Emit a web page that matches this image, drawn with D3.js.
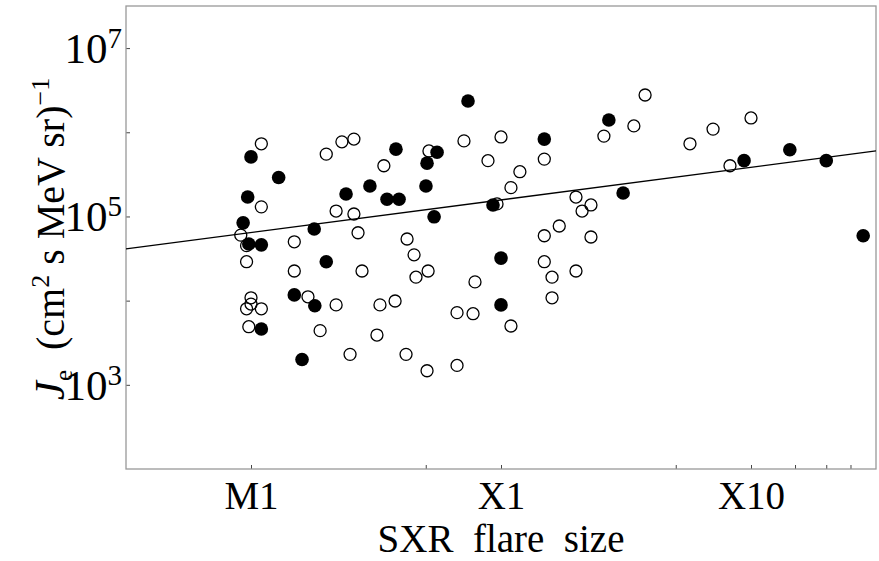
<!DOCTYPE html>
<html>
<head>
<meta charset="utf-8">
<script src="https://cdn.jsdelivr.net/npm/d3@7"></script>
<style>
  body { margin: 0; background: #fff; }
  text { font-family: "Liberation Serif", "Times New Roman", serif; }
</style>
</head>
<body>
<script>
// flare size in units of M1 (1 = M1, 10 = X1, 100 = X10), electron intensity Je
const filledSize = [1.0, 1.29, 0.97, 0.93, 0.98, 1.10, 1.79, 2.40, 2.0, 1.10, 1.49, 1.80, 1.60,
  3.80, 2.99, 3.50, 3.91, 5.55, 5.06, 5.01, 5.40, 7.38, 14.9, 9.29, 10.0, 10.0,
  27.0, 30.8, 93.8, 143, 200, 281];
const filledJe = [5.1e5, 2.9e5, 1.7e5, 8.4e4, 4.7e4, 4.6e4, 7.1e4, 1.85e5, 2.9e4, 4.6e3, 1.17e4, 8.7e3, 2.0e3,
  6.3e5, 2.3e5, 1.6e5, 1.6e5, 5.8e5, 4.3e5, 2.3e5, 9.9e4, 2.35e6, 8.3e5, 1.37e5, 3.2e4, 8.9e3,
  1.40e6, 1.9e5, 4.6e5, 6.2e5, 4.6e5, 5.9e4];

const openSize = [1.10, 1.10, 0.91, 0.96, 1.49, 0.96, 1.49, 2.0, 2.31, 2.58, 2.19, 2.58, 2.68,
  1.0, 1.0, 0.96, 1.10, 0.98, 1.69, 2.19, 1.89, 2.49, 3.40, 2.78, 4.21, 4.49, 5.11, 4.57,
  5.15, 7.11, 10.0, 8.87, 14.9, 11.9, 10.96, 9.64, 7.87, 14.9, 17.1, 14.9, 16.0, 16.0,
  19.95, 19.95, 21.1, 22.9, 22.9, 25.8, 3.28, 3.77, 6.67, 7.73, 3.19, 4.17, 5.06, 6.67,
  10.96, 37.7, 34.0, 57.0, 70.5, 100, 82.4];
const openJe = [7.3e5, 1.30e5, 6.0e4, 4.5e4, 5.0e4, 2.9e4, 2.25e4, 5.5e5, 7.7e5, 8.3e5, 1.16e5, 1.07e5, 6.4e4,
  1.08e4, 9.1e3, 8.0e3, 8.0e3, 4.9e3, 1.11e4, 8.9e3, 4.4e3, 2.3e3, 4.0e5, 2.25e4, 5.4e4, 3.5e4, 2.25e4, 1.9e4,
  6.0e5, 7.9e5, 8.8e5, 4.6e5, 4.8e5, 3.4e5, 2.2e5, 1.41e5, 1.67e4, 5.9e4, 7.7e4, 2.9e4, 1.9e4, 1.08e4,
  2.25e4, 1.7e5, 1.16e5, 1.37e5, 5.7e4, 9.0e5, 8.9e3, 9.9e3, 7.2e3, 7.0e3, 3.9e3, 2.3e3, 1.47e3, 1.7e3,
  5.0e3, 2.77e6, 1.19e6, 7.3e5, 1.09e6, 1.48e6, 4.0e5];

// power-law fit: Je = fitJeAtM1 * size^fitSlope
const fitJeAtM1 = 6.43e4;
const fitSlope = 0.388;

const xTicks = [1, 5, 10, 50, 100, 150, 200, 250];
const xTickLabels = {1: "M1", 10: "X1", 100: "X10"};
const yTicks = [1e3, 1e4, 1e5, 1e6, 1e7];
const yTickLabels = {1000: "3", 100000: "5", 10000000: "7"};

const W = 879, H = 561;
const m = {left: 126, right: 3, top: 6, bottom: 92};
const FS = 39;

const svg = d3.select("body").append("svg")
  .attr("width", W).attr("height", H);

const x = d3.scaleLog()
  .domain([Math.pow(10, -0.5), Math.pow(10, 2.5)])
  .range([m.left, W - m.right]);
const y = d3.scaleLog()
  .domain([1e2, Math.pow(10, 7.5)])
  .range([H - m.bottom, m.top]);

// x axis
const gx = svg.append("g")
  .attr("transform", "translate(0," + (H - m.bottom) + ")")
  .call(d3.axisBottom(x).tickValues(xTicks).tickSize(-4).tickPadding(12)
    .tickFormat(d => xTickLabels[d] || ""));
gx.select(".domain").remove();
gx.selectAll(".tick line").attr("stroke", "#444");
gx.selectAll(".tick text").attr("font-size", FS).attr("fill", "#000")
  .style("font-family", "'Liberation Serif', serif");

// y axis
const gy = svg.append("g")
  .attr("transform", "translate(" + m.left + ",0)")
  .call(d3.axisLeft(y).tickValues(yTicks).tickSize(-4).tickPadding(4)
    .tickFormat(() => ""));
gy.select(".domain").remove();
gy.selectAll(".tick line").attr("stroke", "#444");
gy.selectAll(".tick text").each(function (d) {
  const sup = yTickLabels[d];
  const t = d3.select(this).attr("fill", "#000").attr("font-size", 43)
    .style("font-family", "'Liberation Serif', serif");
  if (!sup) return;
  t.attr("dy", "0.33em");
  t.append("tspan").text("10");
  t.append("tspan").attr("font-size", 29).attr("dy", -15).text(sup);
});

// frame
svg.append("rect")
  .attr("x", m.left).attr("y", m.top)
  .attr("width", W - m.right - m.left).attr("height", H - m.bottom - m.top)
  .attr("fill", "none").attr("stroke", "#999").attr("stroke-width", 1.3);

// fit line
const fitX = x.domain();
svg.append("line")
  .attr("x1", x(fitX[0])).attr("y1", y(fitJeAtM1 * Math.pow(fitX[0], fitSlope)))
  .attr("x2", x(fitX[1])).attr("y2", y(fitJeAtM1 * Math.pow(fitX[1], fitSlope)))
  .attr("stroke", "#000").attr("stroke-width", 1.3);

// points
svg.append("g").selectAll("circle")
  .data(openSize.map((s, i) => [s, openJe[i]]))
  .join("circle")
  .attr("cx", d => x(d[0])).attr("cy", d => y(d[1]))
  .attr("r", 6)
  .attr("fill", "none").attr("stroke", "#000").attr("stroke-width", 1.3);

svg.append("g").selectAll("circle")
  .data(filledSize.map((s, i) => [s, filledJe[i]]))
  .join("circle")
  .attr("cx", d => x(d[0])).attr("cy", d => y(d[1]))
  .attr("r", 6.8)
  .attr("fill", "#000");

// axis titles
svg.append("text")
  .attr("x", (m.left + W - m.right) / 2).attr("y", 552)
  .attr("text-anchor", "middle").attr("font-size", FS)
  .attr("xml:space", "preserve")
  .text("SXR  flare  size");

const yl = svg.append("text")
  .attr("transform", "translate(64,239) rotate(-90)")
  .attr("text-anchor", "middle").attr("font-size", 40)
  .attr("xml:space", "preserve");
yl.append("tspan").attr("font-style", "italic").attr("font-size", 43).text("J");
yl.append("tspan").attr("font-size", 25).attr("dy", 8).text("e");
yl.append("tspan").attr("dy", -8).text("  (cm");
yl.append("tspan").attr("font-size", 26).attr("dy", -15).text("2");
yl.append("tspan").attr("dy", 15).text(" s MeV sr)");
yl.append("tspan").attr("font-size", 26).attr("dy", -15).text("\u22121");
</script>
</body>
</html>
